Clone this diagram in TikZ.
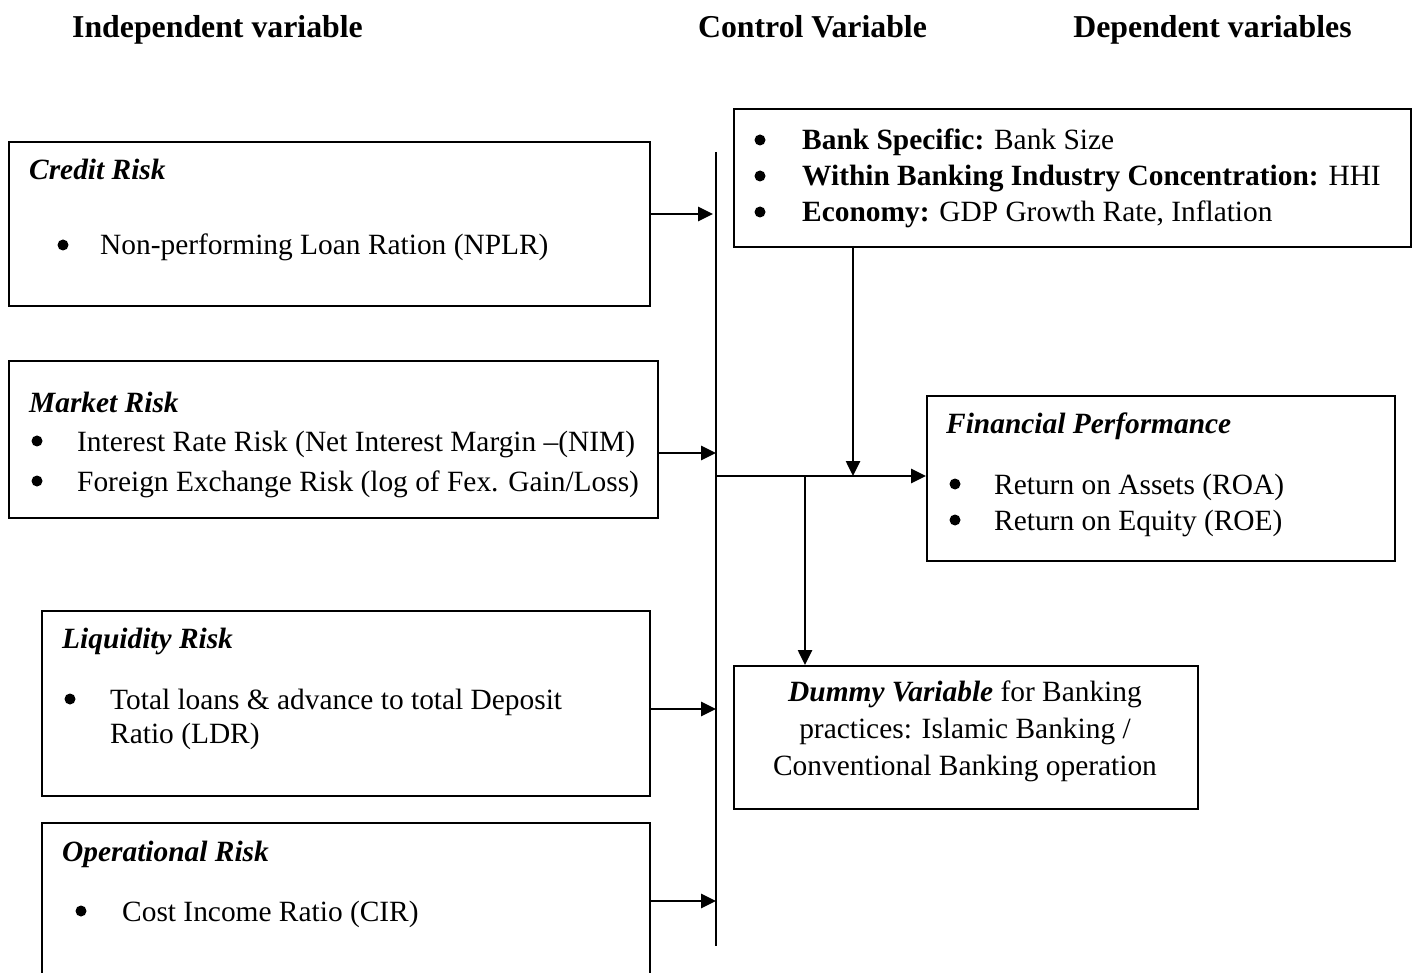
\documentclass[tikz,border=0pt]{standalone}
\usepackage{fontspec}
\setmainfont{Liberation Serif}
\usetikzlibrary{arrows.meta}
\begin{document}
\begin{tikzpicture}[x=1pt,y=-1pt,
  box/.style={draw,line width=2pt,anchor=north west,inner sep=0pt},
  txt/.style={anchor=base west,inner sep=0pt,font=\fontsize{29.4}{36}\selectfont},
  hdr/.style={anchor=base,inner sep=0pt,font=\fontsize{31.8}{38}\selectfont\bfseries},
  arr/.style={line width=2.6pt,-{Triangle[length=15pt,width=14pt]}},
  bul/.style={circle,fill,inner sep=0pt,minimum size=11pt},
]
\useasboundingbox (0,0) rectangle (1414,973);
\clip (0,0) rectangle (1414,973);

% headers
\node[hdr] (h1) at (217.5,38) {Independent variable};
\node[hdr] (h2) at (812.5,38) {Control Variable};
\node[hdr] (h3) at (1212.5,38) {Dependent variables};

% boxes
\node[box,minimum width=641pt,minimum height=164pt] (cr) at (8,141) {};
\node[box,minimum width=649pt,minimum height=157pt] (mr) at (8,360) {};
\node[box,minimum width=608pt,minimum height=185pt] (lr) at (41,610) {};
\node[box,minimum width=608pt,minimum height=220pt] (or) at (41,822) {};
\node[box,minimum width=677pt,minimum height=138pt] (cb) at (733,108) {};
\node[box,minimum width=468pt,minimum height=165pt] (fp) at (926,395) {};
\node[box,minimum width=464pt,minimum height=143pt] (dv) at (733,665) {};

% credit risk
\node[txt] (crt) at (29,180) {\textbf{\textit{Credit Risk}}};
\node[bul] (crb) at (63,245) {};
\node[txt] (cr1) at (100,255) {Non-performing Loan Ration (NPLR)};

% market risk
\node[txt] (mrt) at (29,413) {\textbf{\textit{Market Risk}}};
\node[bul] (mrb1) at (37,441) {};
\node[txt] (mr1) at (77,451) {Interest Rate Risk (Net Interest Margin \textendash(NIM)};
\node[bul] (mrb2) at (37,481) {};
\node[txt] (mr2) at (77,491) {Foreign Exchange Risk (log of Fex. Gain/Loss)};

% liquidity risk
\node[txt] (lrt) at (62,648) {\textbf{\textit{Liquidity Risk}}};
\node[bul] (lrb) at (70,699) {};
\node[txt] (lr1) at (110,709) {Total loans \& advance to total Deposit};
\node[txt] (lr2) at (110,743) {Ratio (LDR)};

% operational risk
\node[txt] (ort) at (62,861) {\textbf{\textit{Operational Risk}}};
\node[bul] (orb) at (81,911) {};
\node[txt] (or1) at (122,921) {Cost Income Ratio (CIR)};

% control box
\node[bul] (cbb1) at (760,140) {};
\node[txt] (cb1) at (802,150) {\textbf{Bank Specific:} Bank Size};
\node[bul] (cbb2) at (760,176) {};
\node[txt] (cb2) at (802,186) {\textbf{Within Banking Industry Concentration:} HHI};
\node[bul] (cbb3) at (760,212) {};
\node[txt] (cb3) at (802,222) {\textbf{Economy:} GDP Growth Rate, Inflation};

% financial performance
\node[txt] (fpt) at (946,434) {\textbf{\textit{Financial Performance}}};
\node[bul] (fpb1) at (955,484) {};
\node[txt] (fp1) at (994,494) {Return on Assets (ROA)};
\node[bul] (fpb2) at (955,520) {};
\node[txt] (fp2) at (994,530) {Return on Equity (ROE)};

% dummy
\node[inner sep=0pt,align=center,font=\fontsize{29.4}{37}\selectfont] (dvt) at (965,731)
  {\textbf{\textit{Dummy Variable}} for Banking\\practices: Islamic Banking /\\Conventional Banking operation};

% vertical bar
\coordinate (vt) at (716,152);
\coordinate (vb) at (716,946);
\draw[line width=1.6pt] (vt) -- (vb);

% arrows into bar
\coordinate (a1) at (649,214);
\coordinate (a2) at (657,453);
\coordinate (a3) at (649,709);
\coordinate (a4) at (649,901);
\draw[arr] (a1) -- ([xshift=-3pt]a1 -| vt);
\draw[arr] (a2) -- (a2 -| vt);
\draw[arr] (a3) -- (a3 -| vt);
\draw[arr] (a4) -- (a4 -| vt);

% main horizontal to financial performance
\coordinate (j) at (716,476);
\draw[arr] (j) -- (j -| fp.west);

% control down
\coordinate (c1) at (853,246);
\draw[arr] (c1) -- (c1 |- j);

% to dummy
\coordinate (d1) at (805,476);
\draw[arr] (d1) -- (d1 |- dv.north);
\end{tikzpicture}
\end{document}
